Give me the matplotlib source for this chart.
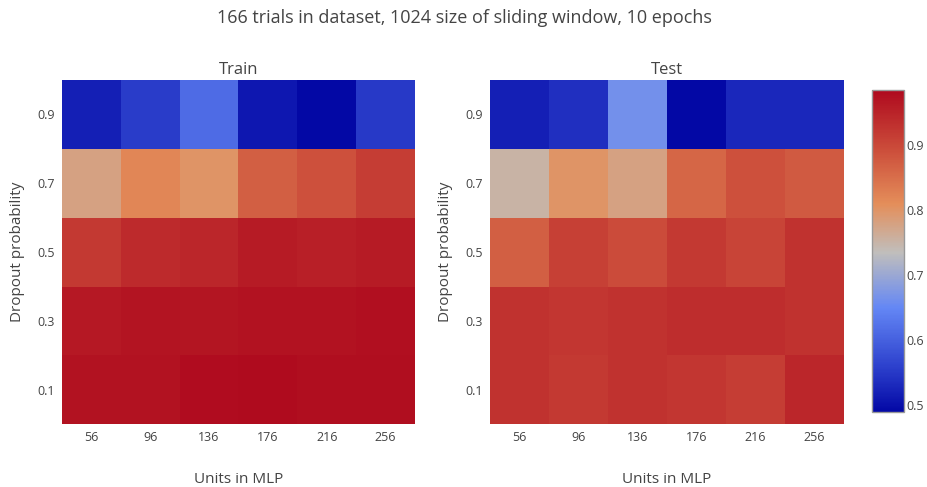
import numpy as np
import matplotlib
matplotlib.use("Agg")
import matplotlib.pyplot as plt
from matplotlib.colors import LinearSegmentedColormap

plt.rcParams['font.family'] = ['Open Sans', 'DejaVu Sans']

units = [56, 96, 136, 176, 216, 256]
dropout = [0.1, 0.3, 0.5, 0.7, 0.9]

# rows: dropout 0.1 .. 0.9, cols: units
train_acc = np.array([
    [0.972, 0.972, 0.980, 0.982, 0.979, 0.978],
    [0.965, 0.970, 0.968, 0.972, 0.973, 0.977],
    [0.920, 0.940, 0.945, 0.960, 0.955, 0.960],
    [0.780, 0.820, 0.800, 0.870, 0.890, 0.915],
    [0.520, 0.555, 0.615, 0.510, 0.490, 0.550],
])
test_acc = np.array([
    [0.930, 0.920, 0.930, 0.925, 0.915, 0.945],
    [0.930, 0.925, 0.930, 0.935, 0.935, 0.930],
    [0.870, 0.910, 0.895, 0.920, 0.905, 0.930],
    [0.752, 0.800, 0.780, 0.860, 0.890, 0.875],
    [0.520, 0.540, 0.665, 0.490, 0.530, 0.530],
])

vmin, vmax = 0.49, 0.985
stops = [(0.49, (3, 8, 165)), (0.56, (45, 65, 205)), (0.65, (100, 135, 245)),
         (0.735, (192, 190, 188)), (0.81, (228, 142, 90)), (0.89, (205, 80, 60)),
         (0.985, (175, 10, 30))]
cmap = LinearSegmentedColormap.from_list(
    'cw', [((v - vmin) / (vmax - vmin), tuple(c / 255 for c in rgb)) for v, rgb in stops])

fig = plt.figure(figsize=(9.28, 4.87), dpi=100)
W, H = 928, 487
txt = '#444444'

def add_ax(x0, y0, x1, y1):
    return fig.add_axes([x0 / W, 1 - y1 / H, (x1 - x0) / W, (y1 - y0) / H])

panels = [(add_ax(62, 80, 415, 424), train_acc, 'Train'),
          (add_ax(490, 80, 844, 424), test_acc, 'Test')]

for ax, data, name in panels:
    im = ax.imshow(data, cmap=cmap, vmin=vmin, vmax=vmax, origin='lower',
                   aspect='auto', interpolation='nearest')
    ax.set_xticks(range(len(units)))
    ax.set_xticklabels([str(u) for u in units])
    ax.set_yticks(range(len(dropout)))
    ax.set_yticklabels([str(d) for d in dropout])
    ax.tick_params(length=0, labelsize=9, colors=txt, pad=5)
    for s in ax.spines.values():
        s.set_visible(False)
    ax.set_title(name, fontsize=12, color=txt, pad=4)
    ax.set_xlabel('Units in MLP', fontsize=11, color=txt, labelpad=20)
    ax.set_ylabel('Dropout probability', fontsize=11, color=txt, labelpad=9)

cax = add_ax(872, 90, 904, 412)
cb = fig.colorbar(im, cax=cax)
cb.set_ticks([0.5, 0.6, 0.7, 0.8, 0.9])
cb.ax.tick_params(length=0, labelsize=9, colors=txt, pad=2)
cb.outline.set_edgecolor('#999999')
cb.outline.set_linewidth(1)

fig.suptitle('166 trials in dataset, 1024 size of sliding window, 10 epochs',
             fontsize=13, color=txt, y=1 - 18 / H, va='center')

fig.savefig('out.png', dpi=100)
